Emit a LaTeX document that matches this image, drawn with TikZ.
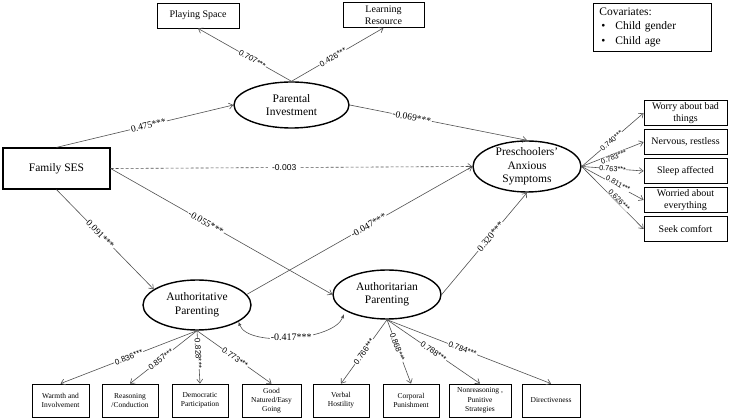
\documentclass[tikz,border=0pt]{standalone}
\usepackage{fontspec}
\setmainfont{Liberation Serif}
\newfontfamily\lsans{Liberation Sans}
\usetikzlibrary{shapes.geometric,arrows.meta}
\newcommand\fsz[2]{\fontsize{#1}{#2}\selectfont}
\definecolor{edgec}{HTML}{505050}
\begin{document}
\begin{tikzpicture}[x=1pt,y=-1pt,
  box/.style={draw=black, line width=0.8pt, align=center, inner sep=0.5pt},
  topbox/.style={box, minimum width=82pt, minimum height=25pt, font=\fsz{10}{12.5}},
  rbox/.style={box, minimum width=83pt, minimum height=25pt, font=\fsz{10}{12.5}},
  bbox/.style={box, minimum height=33pt, font=\fsz{7.5}{9.2}},
  lat/.style={draw=black, line width=1.4pt, ellipse, inner sep=0pt},
  lattext/.style={align=center, font=\fsz{11.5}{13.5}},
  pathe/.style={draw=edgec, line width=0.6pt, -{Straight Barb[length=4pt,width=6pt]}},
  lbls/.style={fill=white, inner sep=0.8pt, sloped, font=\lsans\fsz{8}{9.5}},
  lblx/.style={fill=white, inner sep=0.3pt, sloped, font=\lsans\fsz{7.3}{8.5}},
  lblr/.style={fill=white, inner sep=1pt, sloped, font=\fsz{9.5}{11}},
]
\useasboundingbox (0,0) rectangle (729,419);

% observed indicators (top)
\node[topbox] (ps) at (198,15.5) {Playing Space};
\node[topbox, minimum width=81pt] (lr) at (383.5,15) {Learning\\Resource};

% covariates
\node[box, anchor=north west, align=left, text width=106pt, minimum height=48pt,
      inner xsep=6pt, inner ysep=2pt, font=\fsz{11.5}{14.5}] (cov) at (593,3)
  {Covariates:\\\hspace*{2pt}\makebox[14pt][l]{\textbullet}Child gender\\\hspace*{2pt}\makebox[14pt][l]{\textbullet}Child age};

% family SES
\node[box, line width=1.2pt, minimum width=107pt, minimum height=41pt, font=\fsz{11.5}{13}] (ses) at (56.5,168.5) {Family SES};

% latent variables
\node[lat, minimum width=115pt, minimum height=46pt,
      label={[lattext]center:Parental\\Investment}] (pi) at (291.5,105) {};
\node[lat, minimum width=108pt, minimum height=51pt,
      label={[lattext]center:Preschoolers'\\Anxious\\Symptoms}] (anx) at (527,166.5) {};
\node[lat, minimum width=108pt, minimum height=50pt,
      label={[lattext]center:Authoritative\\Parenting}] (aut1) at (197,305) {};
\node[lat, minimum width=108pt, minimum height=49pt,
      label={[lattext]center:Authoritarian\\Parenting}] (aut2) at (387,294.5) {};

% anxiety indicators
\node[rbox] (r1) at (685.5,113) {Worry about bad\\things};
\node[rbox] (r2) at (685.5,142) {Nervous, restless};
\node[rbox] (r3) at (685.5,171) {Sleep affected};
\node[rbox] (r4) at (685.5,200) {Worried about\\everything};
\node[rbox] (r5) at (685.5,229) {Seek comfort};

% parenting indicators
\node[bbox, minimum width=57pt] (b1) at (60.5,400.5) {Warmth and\\Involvement};
\node[bbox, minimum width=56pt] (b2) at (130,400.5) {Reasoning\\/Conduction};
\node[bbox, minimum width=56pt] (b3) at (200,400.5) {Democratic\\Participation};
\node[bbox, minimum width=59pt] (b4) at (271.5,400.5) {Good\\Natured/Easy\\Going};
\node[bbox, minimum width=56pt] (b5) at (341,400.5) {Verbal\\Hostility};
\node[bbox, minimum width=56pt] (b6) at (411,400.5) {Corporal\\Punishment};
\node[bbox, minimum width=62pt] (b7) at (480,400.5) {Nonreasoning ,\\Punitive\\Strategies};
\node[bbox, minimum width=58pt] (b8) at (551,400.5) {Directiveness};

% parental investment loadings
\draw[pathe] (pi.north) -- node[lbls,pos=0.42]{0.707***} (ps.south);
\draw[pathe] (pi.north) -- node[lbls,pos=0.45]{0.426***} (lr.south);

% structural paths
\draw[pathe] (ses.north) -- node[lblr,pos=0.52]{0.475***} (pi.west);
\draw[pathe] (pi.east) -- node[lblr,pos=0.35]{-0.069***} (anx.north);
\draw[pathe, dashed, dash pattern=on 3pt off 2pt] (ses.east) -- node[lbls,pos=0.48,sloped=false,inner xsep=4pt,font=\lsans\fsz{8.5}{10}]{-0.003} (anx.west);
\draw[pathe] (ses.east) -- node[lblr,pos=0.43]{-0.055***} (aut2.west);
\draw[pathe] (ses.south) -- node[lblr,pos=0.45]{0.091***} (aut1.160);
\draw[pathe] (aut1.12) -- node[lblr,pos=0.54]{-0.047***} (anx.west);
\draw[pathe] (aut2.east) -- node[lblr,pos=0.57]{0.320***} (anx.south);

% covariance
\draw[draw=edgec, line width=0.6pt, {Latex[length=4pt,width=3.5pt]}-{Latex[length=4pt,width=3.5pt]}]
  (aut1.-22) .. controls +(10,26) and +(-10,26) ..
  node[fill=white, inner sep=1pt, font=\fsz{10}{12}, pos=0.5]{-0.417***}
  ([xshift=-9pt]aut2.-150);

% anxiety loadings
\draw[pathe] (anx.east) -- node[lblx,pos=0.48]{0.740***} (r1.west);
\draw[pathe] (anx.east) -- node[lblx,pos=0.5,yshift=-3pt]{0.783***} (r2.west);
\draw[pathe] (anx.east) -- node[lblx,pos=0.5]{0.763***} (r3.west);
\draw[pathe] (anx.east) -- node[lblx,pos=0.57,yshift=2pt]{0.811***} (r4.west);
\draw[pathe] (anx.east) -- node[lblx,pos=0.57,yshift=3pt]{0.626***} (r5.west);

% authoritative loadings
\draw[pathe] (aut1.south) -- node[lbls,pos=0.5]{0.836***} (b1.north);
\draw[pathe] (aut1.south) -- node[lbls,pos=0.54]{0.857***} (b2.north);
\draw[pathe] (aut1.south) -- node[lbls,pos=0.43]{0.828***} (b3.north);
\draw[pathe] (aut1.south) -- node[lbls,pos=0.51]{0.773***} (b4.north);

% authoritarian loadings
\draw[pathe] (aut2.south) -- node[lbls,pos=0.5]{0.766***} (b5.north);
\draw[pathe] (aut2.south) -- node[lbls,pos=0.43]{0.868***} (b6.north);
\draw[pathe] (aut2.south) -- node[lbls,pos=0.5]{0.788***} (b7.north);
\draw[pathe] (aut2.south) -- node[lbls,pos=0.46]{0.784***} (b8.north);
\end{tikzpicture}
\end{document}
